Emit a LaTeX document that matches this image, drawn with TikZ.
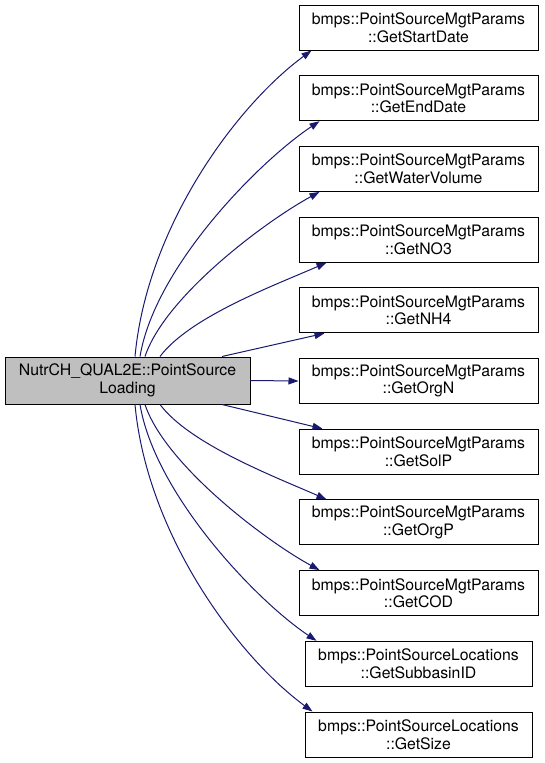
\documentclass[tikz,border=0pt]{standalone}
\usepackage{fontspec}
\setmainfont{TeX Gyre Heros}
\usepackage{tikz}
\usetikzlibrary{arrows.meta, positioning, calc}
\definecolor{callnavy}{HTML}{191970}
\definecolor{rootgray}{HTML}{BFBFBF}

\begin{document}
\begin{tikzpicture}[
    x=1pt, y=-1pt,
    >={Triangle[length=10pt, width=7pt]},
    func/.style={draw=black, line width=1pt, fill=rootgray, minimum width=245pt, minimum height=47pt, inner sep=0pt, align=center, font=\fontsize{15.8}{17.5}\selectfont},
    callee/.style={draw=black, line width=1pt, fill=white, minimum width=239pt, minimum height=45pt, inner sep=0pt, align=center, font=\fontsize{15.8}{17.5}\selectfont},
    calllink/.style={->, line width=1pt, color=callnavy},
]
\useasboundingbox (0,0) rectangle (544,763);

% Caller
\node[func] (load) at (127.5, 380.5) {NutrCH\_QUAL2E::PointSource\\Loading};

% Callees: PointSourceMgtParams
\node[callee] (r1) at (418.5, 27.5) {bmps::PointSourceMgtParams\\::GetStartDate};
\node[callee] (r2) at (418.5, 98.2) {bmps::PointSourceMgtParams\\::GetEndDate};
\node[callee] (r3) at (418.5, 168.9) {bmps::PointSourceMgtParams\\::GetWaterVolume};
\node[callee] (r4) at (418.5, 239.6) {bmps::PointSourceMgtParams\\::GetNO3};
\node[callee] (r5) at (418.5, 310.3) {bmps::PointSourceMgtParams\\::GetNH4};
\node[callee] (r6) at (418.5, 381.0) {bmps::PointSourceMgtParams\\::GetOrgN};
\node[callee] (r7) at (418.5, 451.7) {bmps::PointSourceMgtParams\\::GetSolP};
\node[callee] (r8) at (418.5, 522.4) {bmps::PointSourceMgtParams\\::GetOrgP};
\node[callee] (r9) at (418.5, 593.1) {bmps::PointSourceMgtParams\\::GetCOD};

% Callees: PointSourceLocations
\node[callee, minimum width=227pt] (r10) at (418.5, 663.8) {bmps::PointSourceLocations\\::GetSubbasinID};
\node[callee, minimum width=227pt] (r11) at (418.5, 734.5) {bmps::PointSourceLocations\\::GetSize};

% Calls upward
\draw[calllink] ([xshift=7.5]load.north) .. controls +(12,-130) and +(-75,55) .. ([xshift=13]r1.south west);
\draw[calllink] ([xshift=12.5]load.north) .. controls +(15,-90) and +(-60,40) .. ([xshift=21]r2.south west);
\draw[calllink] ([xshift=17.5]load.north) .. controls +(20,-60) and +(-55,30) .. ([xshift=21]r3.south west);
\draw[calllink] ([xshift=32.5]load.north) .. controls +(30,-40) and +(-50,22) .. ([xshift=28]r4.south west);
\draw[calllink] ([xshift=94.5]load.north) -- ([xshift=26]r5.south west);

% Straight call
\draw[calllink] (load.east) -- (r6.west);

% Calls downward
\draw[calllink] ([xshift=94.5]load.south) -- ([xshift=24]r7.north west);
\draw[calllink] ([xshift=32.5]load.south) .. controls +(30,40) and +(-50,-22) .. ([xshift=28]r8.north west);
\draw[calllink] ([xshift=17.5]load.south) .. controls +(20,60) and +(-55,-30) .. ([xshift=21]r9.north west);
\draw[calllink] ([xshift=12.5]load.south) .. controls +(15,90) and +(-60,-40) .. ([xshift=12]r10.north west);
\draw[calllink] ([xshift=7.5]load.south) .. controls +(12,130) and +(-75,-55) .. ([xshift=8]r11.north west);

\end{tikzpicture}
\end{document}
